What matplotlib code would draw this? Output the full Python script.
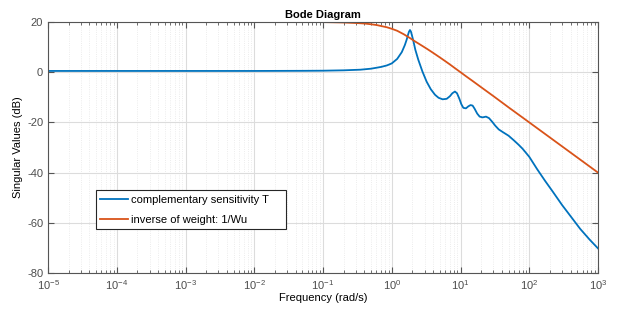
import matplotlib
matplotlib.use('Agg')
import matplotlib.pyplot as plt
from matplotlib.ticker import LogLocator, NullFormatter, MultipleLocator

plt.rcParams['font.family'] = ['Liberation Sans', 'DejaVu Sans']
plt.rcParams['axes.unicode_minus'] = False

# complementary sensitivity T
freq_T = [1e-5, 1e-3, 1e-2, 0.05, 0.1, 0.2, 0.35, 0.5, 0.7, 0.85, 1.0, 1.2,
          1.4, 1.55, 1.65, 1.72, 1.78, 1.84, 1.9, 1.97, 2.06, 2.2, 2.43, 2.8,
          3.22, 3.7, 4.26, 4.8, 5.5, 6.3, 7.0, 7.6, 8.3, 8.9, 9.6, 10.3, 11.0,
          12, 13, 14, 15, 16, 17.5, 19, 21, 23.5, 26, 29, 32, 36, 42, 50, 60,
          70, 80, 100, 130, 170, 220, 300, 400, 550, 750, 1000]
mag_T = [0.5, 0.5, 0.5, 0.55, 0.6, 0.75, 1.0, 1.4, 2.1, 2.7, 3.5, 5.3,
         8.0, 10.8, 13.0, 14.8, 16.1, 16.8, 16.2, 14.6, 12.5, 9.0, 5.0, 0.2,
         -3.8, -6.8, -9.0, -10.2, -10.8, -10.6, -9.6, -8.4, -7.7, -8.4, -10.5, -12.8, -14.2,
         -14.4, -13.6, -13.1, -13.3, -14.5, -16.5, -17.7, -18.0, -17.7, -18.3, -19.8, -21.3, -22.8, -24.0, -25.3, -27.2,
         -28.9, -30.5, -33.7, -38.6, -43.3, -47.6, -52.9, -57.4, -62.4, -66.6, -70.2]

# inverse of weight 1/Wu
freq_W = [1e-5, 1e-2, 0.05, 0.1, 0.2, 0.3, 0.4, 0.5, 0.6, 0.7, 0.85, 1.0,
          1.2, 1.5, 1.84, 2.2, 2.7, 3.3, 4.0, 5.0, 6.0, 7.0, 8.5, 10, 12, 15,
          20, 30, 50, 100, 1000]
mag_W = [20, 20, 20, 19.96, 19.8, 19.6, 19.4, 19.1, 18.8, 18.4, 17.9, 17.3,
         16.5, 15.1, 13.6, 12.2, 10.7, 9.2, 7.7, 5.9, 4.4, 3.1, 1.4, 0, -1.6, -3.5,
         -6, -9.5, -14, -20, -40]

blue = '#0072BD'
orange = '#D95319'

fig = plt.figure(figsize=(6.23, 3.11), dpi=100)
ax = fig.add_axes([48/623, 38/311, 550/623, 251/311])

ax.semilogx(freq_T, mag_T, color=blue, lw=1.3, label='complementary sensitivity T')
ax.semilogx(freq_W, mag_W, color=orange, lw=1.3, label='inverse of weight: 1/Wu')

ax.set_xlim(1e-5, 1e3)
ax.set_ylim(-80, 20)
ax.xaxis.set_major_locator(LogLocator(base=10, numticks=20))
ax.xaxis.set_minor_locator(LogLocator(base=10, subs=range(2, 10), numticks=200))
ax.xaxis.set_minor_formatter(NullFormatter())
ax.yaxis.set_major_locator(MultipleLocator(20))

ax.grid(True, which='major', color='#dcdcdc', lw=0.8)
ax.grid(True, which='minor', color='#e6e6e6', lw=0.6, ls=':')
ax.set_axisbelow(True)

ax.tick_params(which='both', direction='in', top=True, right=True,
               colors='#555555', labelsize=8, labelcolor='#4d4d4d')
ax.tick_params(which='major', length=4)
ax.tick_params(which='minor', length=2)
for s in ax.spines.values():
    s.set_color('#555555')
    s.set_linewidth(0.8)

ax.set_title('Bode Diagram', fontsize=8, fontweight='bold', pad=3)
ax.set_xlabel('Frequency (rad/s)', fontsize=8, labelpad=1)
ax.set_ylabel('Singular Values (dB)', fontsize=8, labelpad=3)

leg = ax.legend(loc='lower left', bbox_to_anchor=(0.087, 0.175, 0.346, 0.195),
                mode='expand', fontsize=8, fancybox=False, framealpha=1,
                edgecolor='#262626', handlelength=2.5, handletextpad=0.3,
                labelspacing=0.9, borderaxespad=0)
leg.get_frame().set_linewidth(0.8)

fig.savefig('out.png', dpi=100)
